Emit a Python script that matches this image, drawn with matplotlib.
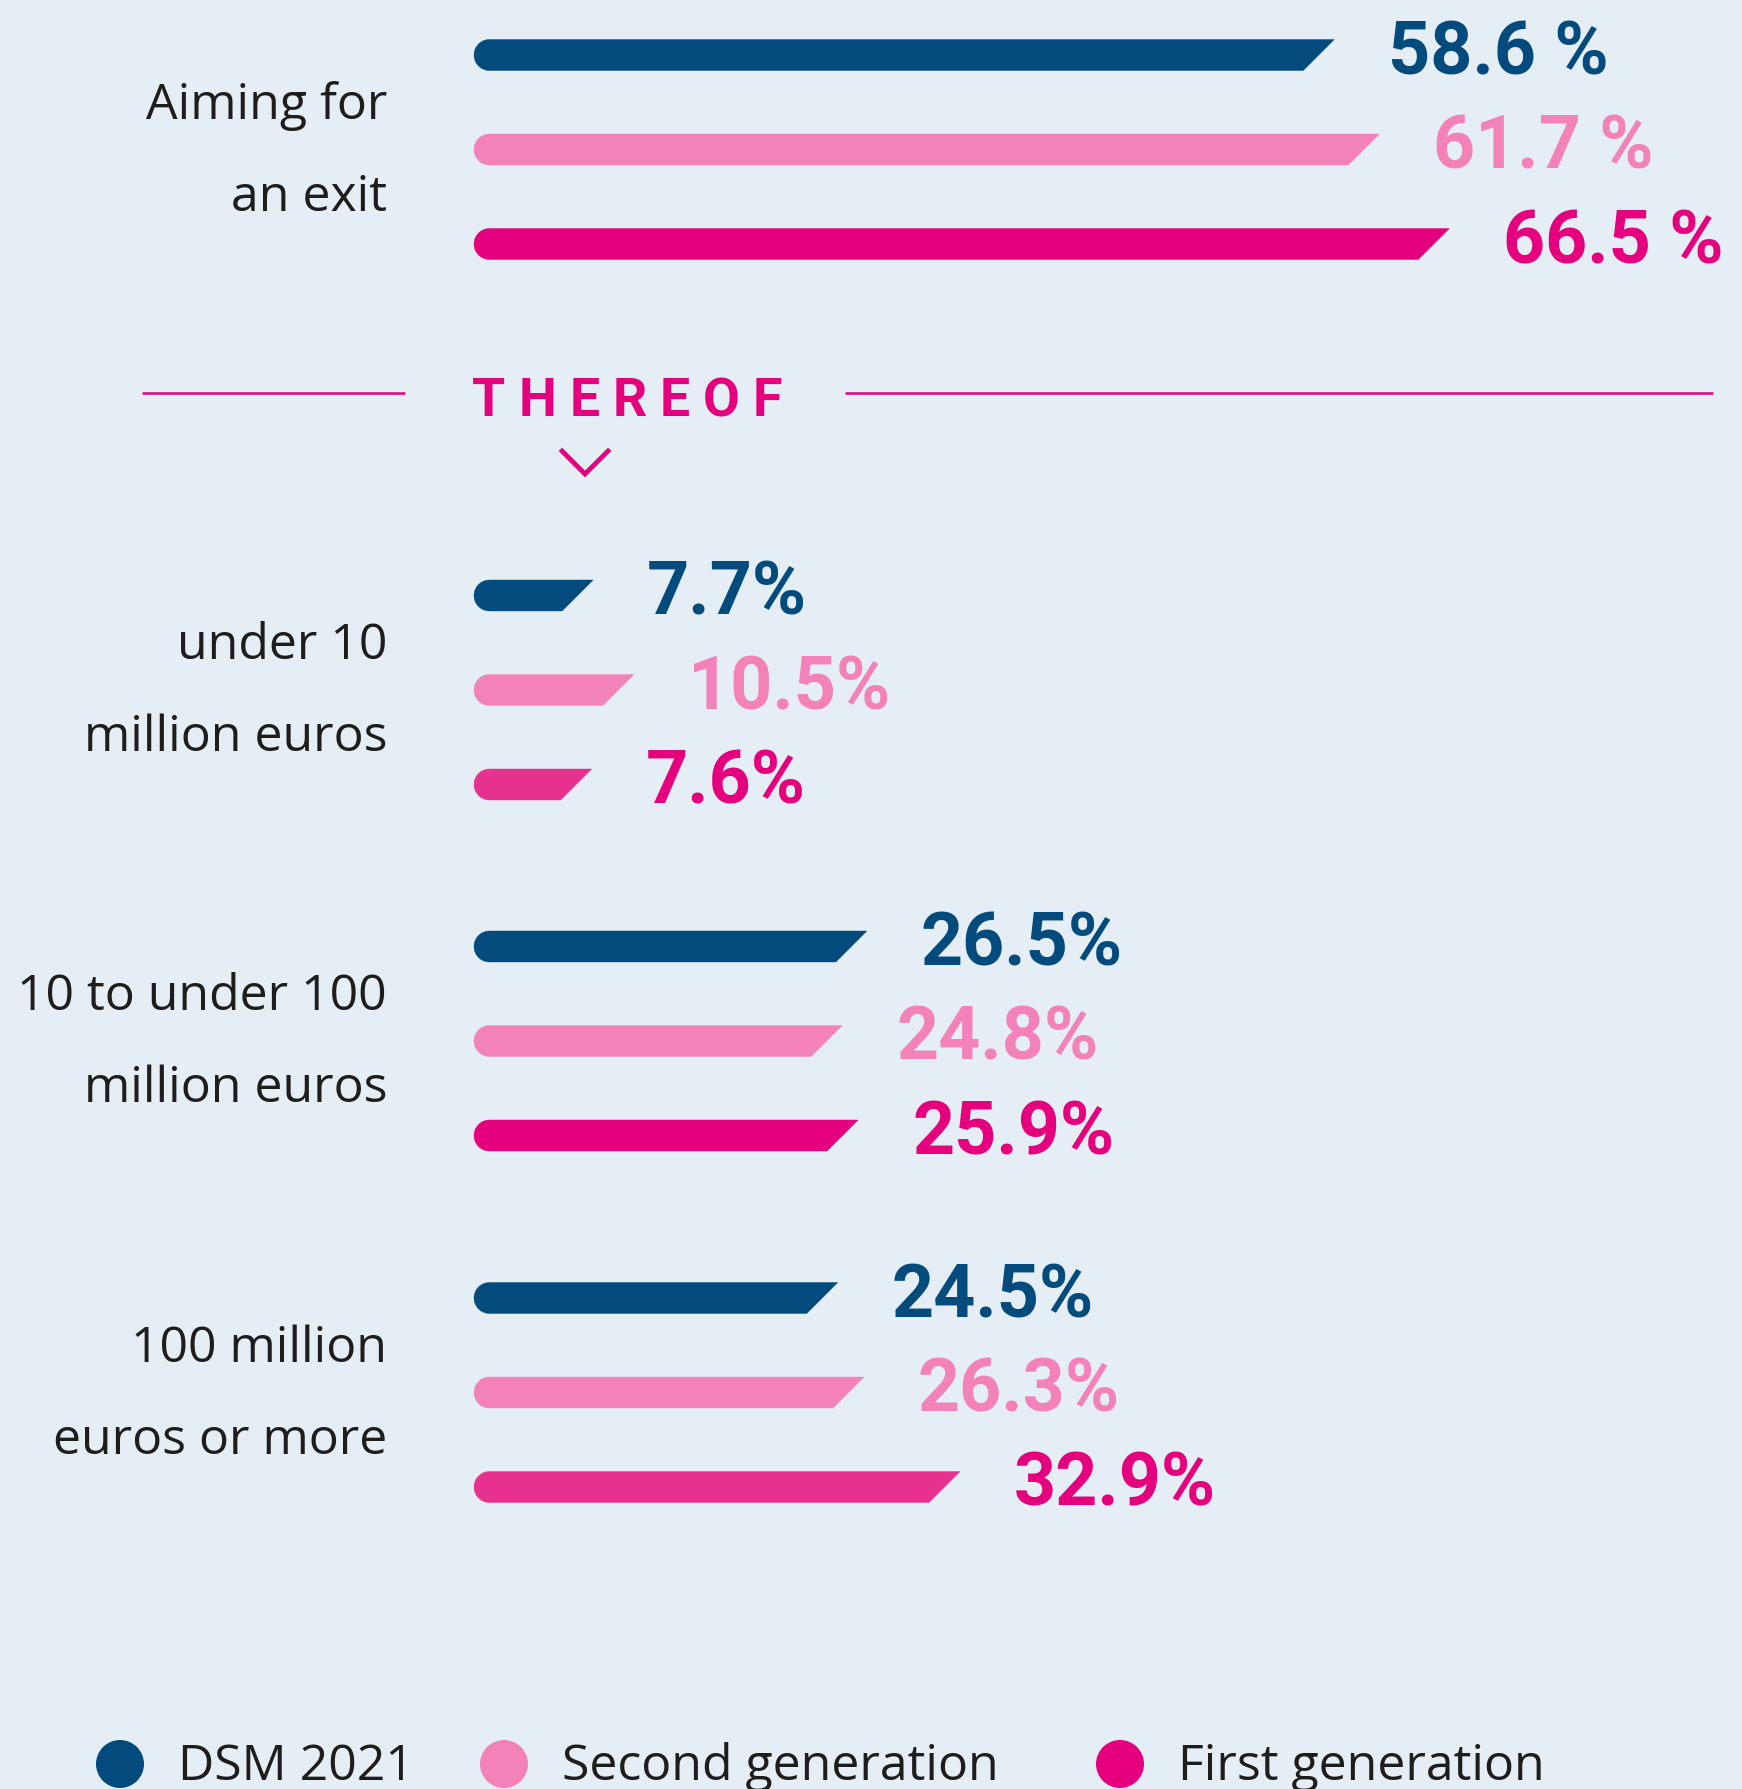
import matplotlib
matplotlib.use("Agg")
import numpy as np
import matplotlib.pyplot as plt
from matplotlib.patches import Polygon, Circle

# --- data -------------------------------------------------------------
groups = ["Aiming for\nan exit", "under 10\nmillion euros",
          "10 to under 100\nmillion euros", "100 million\neuros or more"]
series = ["DSM 2021", "Second generation", "First generation"]
dsm_2021 = [58.6, 7.7, 26.5, 24.5]
second_gen = [61.7, 10.5, 24.8, 26.3]
first_gen = [66.5, 7.6, 25.9, 32.9]
value_fmt = ["{:.1f} %", "{:.1f}%", "{:.1f}%", "{:.1f}%"]
divider_text = "THEREOF"

# --- style / layout ---------------------------------------------------
W, H, DPI = 1742, 1790, 100
BG = "#E6EEF5"
BLUE = "#034A7D"
PINK = "#F282B8"
MAGENTA = "#E5007E"
MAGENTA_LIGHT = "#E7318E"
TEXT = "#1D1D1B"
series_colors = [BLUE, PINK, MAGENTA]
first_gen_bar = [MAGENTA, MAGENTA_LIGHT, MAGENTA, MAGENTA_LIGHT]

X0 = 474            # pixel where 0 % sits
PX_PER_PCT = 14.56  # pixels per percentage point
BAR_H = 31
ROW_STEP = 94.5
group_top = [56, 596.5, 947.5, 1299]

VALUE_FONT = "Roboto"
LABEL_FONT = "Open Sans"
LABEL_SIZE = 36


def bar_shape(value, yc):
    """Rounded-left, chamfered-right bar in (percent, pixel) coordinates."""
    r_x = (BAR_H / 2) / PX_PER_PCT
    slant = BAR_H / PX_PER_PCT
    end = value + 0.48
    top, bot = yc - BAR_H / 2, yc + BAR_H / 2
    # half circle from the bottom edge round to the top edge (y axis is inverted)
    t = np.linspace(np.pi / 2, 3 * np.pi / 2, 30)
    cap = np.column_stack([r_x + r_x * np.cos(t), yc + (BAR_H / 2) * np.sin(t)])
    pts = [(end, top), (end - slant, bot)]
    pts += [tuple(p) for p in cap]
    return pts, end


fig = plt.figure(figsize=(W / DPI, H / DPI), dpi=DPI, facecolor=BG)
lay = fig.add_axes([0, 0, 1, 1])
lay.set_xlim(0, W)
lay.set_ylim(H, 0)
lay.axis("off")

ax = fig.add_axes([0, 0, 1, 1])
ax.set_xlim(-X0 / PX_PER_PCT, (W - X0) / PX_PER_PCT)
ax.set_ylim(H, 0)
ax.axis("off")
ax.patch.set_alpha(0)

values = [dsm_2021, second_gen, first_gen]
for g, label in enumerate(groups):
    for s in range(3):
        yc = group_top[g] + s * ROW_STEP
        color = first_gen_bar[g] if s == 2 else series_colors[s]
        pts, end = bar_shape(values[s][g], yc)
        ax.add_patch(Polygon(pts, closed=True, facecolor=color, edgecolor=color, lw=0.3))
        ax.annotate(value_fmt[g].format(values[s][g]), xy=(end, yc),
                    xytext=(54, -18), textcoords="offset pixels",
                    ha="left", va="baseline", color=series_colors[s],
                    fontsize=53, fontweight="bold", family=VALUE_FONT)

    # category label, right aligned next to the bars
    mid = group_top[g] + ROW_STEP
    line1, line2 = label.split("\n")
    lay.text(387, mid - 32, line1, ha="right", va="baseline", color=TEXT,
             fontsize=LABEL_SIZE, family=LABEL_FONT)
    lay.text(387, mid + 60, line2, ha="right", va="baseline", color=TEXT,
             fontsize=LABEL_SIZE, family=LABEL_FONT)

# "THEREOF" divider with tracked letters
lay.plot([142, 405], [394, 394], color=MAGENTA, lw=1.8, solid_capstyle="butt")
lay.plot([845, 1713], [394, 394], color=MAGENTA, lw=1.8, solid_capstyle="butt")
renderer = fig.canvas.get_renderer()
x = 472
for ch in divider_text:
    t = lay.text(x, 416, ch, ha="left", va="baseline", color=MAGENTA,
                 fontsize=38.5, fontweight="bold", family=VALUE_FONT)
    bb = t.get_window_extent(renderer)
    x += bb.width + 13
lay.plot([562, 585, 608], [452, 475, 452], color=MAGENTA, lw=3.4,
         solid_joinstyle="miter")

# legend along the bottom edge
legend_x = [120, 504, 1120]
for name, color, lx in zip(series, series_colors, legend_x):
    lay.add_patch(Circle((lx, 1765), 24, facecolor=color, edgecolor="none"))
    lay.text(lx + 58, 1780, name, ha="left", va="baseline", color=TEXT,
             fontsize=LABEL_SIZE, family=LABEL_FONT)

fig.savefig("out.png", dpi=DPI, facecolor=BG)
